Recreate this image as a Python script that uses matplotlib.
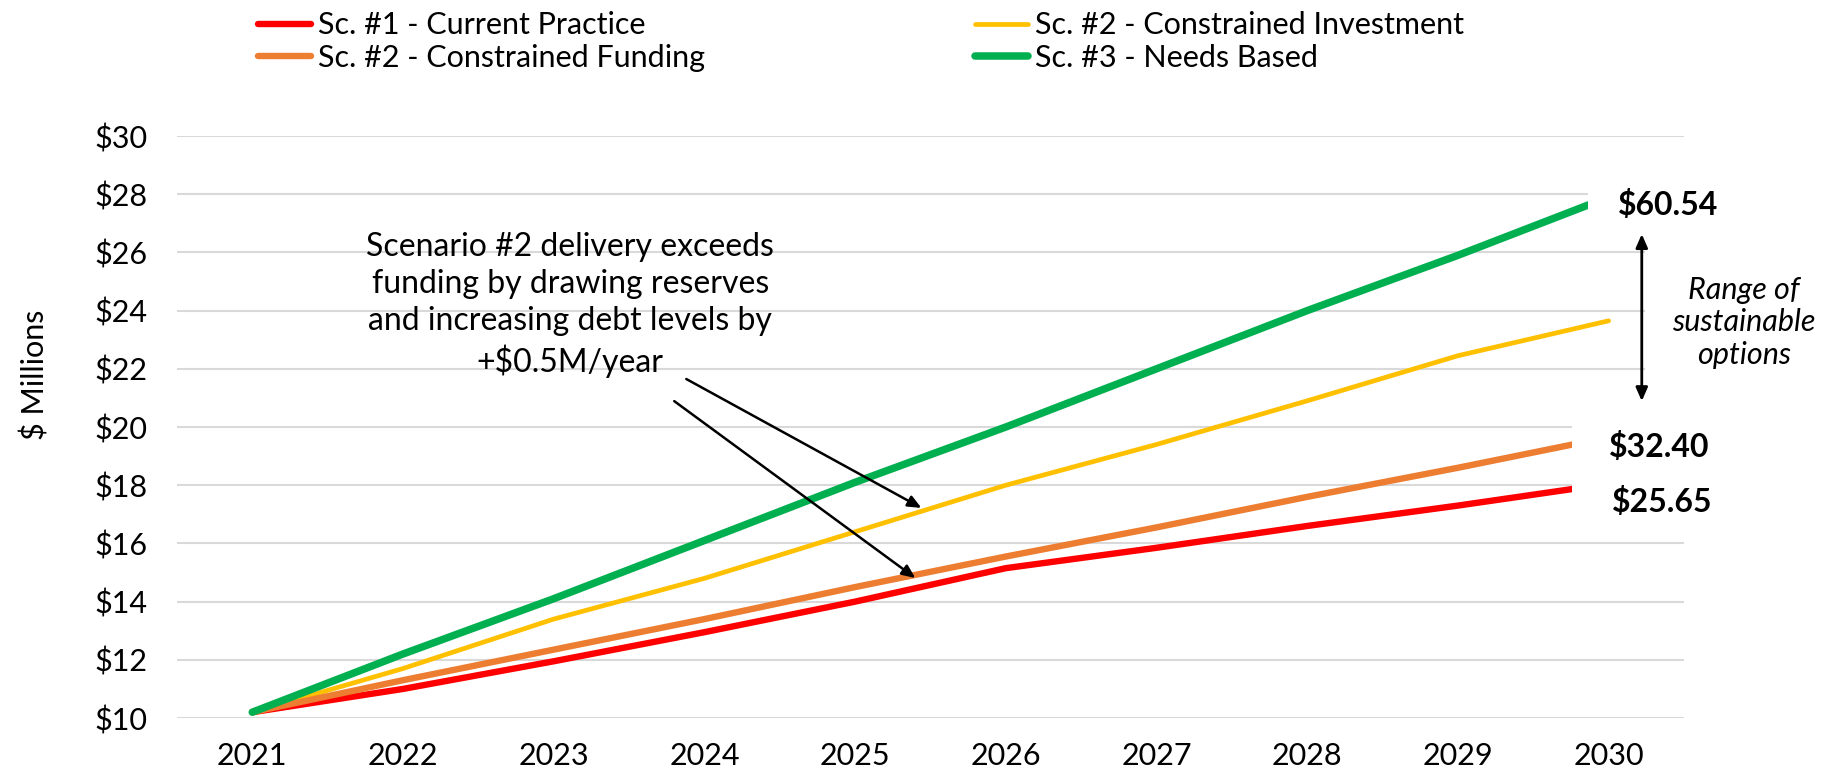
import matplotlib
matplotlib.use("Agg")
import matplotlib.pyplot as plt
from matplotlib.patches import Rectangle

plt.rcParams['font.family'] = ['Lato', 'DejaVu Sans']

years = [2021, 2022, 2023, 2024, 2025, 2026, 2027, 2028, 2029, 2030]
current_practice = [10.2, 11.0, 11.95, 12.95, 14.0, 15.15, 15.85, 16.6, 17.3, 18.05]
constrained_funding = [10.2, 11.3, 12.35, 13.4, 14.5, 15.55, 16.55, 17.6, 18.6, 19.65]
constrained_investment = [10.2, 11.7, 13.4, 14.8, 16.4, 18.0, 19.4, 20.9, 22.45, 23.65]
needs_based = [10.2, 12.2, 14.1, 16.1, 18.1, 20.0, 22.0, 24.0, 25.9, 27.9]

series_labels = ["Sc. #1 - Current Practice", "Sc. #2 - Constrained Funding",
                 "Sc. #2 - Constrained Investment", "Sc. #3 - Needs Based"]
end_labels = ["$60.54", "$32.40", "$25.65"]
y_ticks = [10, 12, 14, 16, 18, 20, 22, 24, 26, 28, 30]
note_text = ("Scenario #2 delivery exceeds\nfunding by drawing reserves\n"
             "and increasing debt levels by\n+$0.5M/year")
range_text = "Range of\nsustainable\noptions"

c_red, c_orange, c_yellow, c_green = "#FF0000", "#ED7D31", "#FFC000", "#00B050"

fig = plt.figure(figsize=(18.39, 7.75), dpi=100)
ax = fig.add_axes([0.0962, 0.0735, 0.8195, 0.751])

l_red, = ax.plot(years, current_practice, color=c_red, lw=4.6, solid_capstyle='round', zorder=3)
l_yel, = ax.plot(years, constrained_investment, color=c_yellow, lw=3.4, solid_capstyle='round', zorder=3.1)
l_org, = ax.plot(years, constrained_funding, color=c_orange, lw=4.6, solid_capstyle='round', zorder=3.2)
l_grn, = ax.plot(years, needs_based, color=c_green, lw=5.4, solid_capstyle='round', zorder=3.3)

ax.set_xlim(2020.5, 2030.5)
ax.set_ylim(10, 30)
ax.set_xticks(years)
ax.set_xticklabels([str(y) for y in years])
ax.set_yticks(y_ticks)
ax.set_yticklabels([f"${v}" for v in y_ticks])
ax.tick_params(axis='both', length=0, labelsize=22, colors='black')
ax.tick_params(axis='x', pad=17)
ax.tick_params(axis='y', pad=21)
ax.grid(axis='y', color='#D9D9D9', lw=1.5, zorder=0)
ax.set_axisbelow(True)
for s in ax.spines.values():
    s.set_visible(False)
ax.set_ylabel("$ Millions", fontsize=22)
ax.yaxis.set_label_coords(-0.0843, 0.589)

leg = fig.legend([l_red, l_org, l_yel, l_grn], series_labels, loc='upper left',
                 bbox_to_anchor=(0.132, 1.005), ncol=2, frameon=False, fontsize=22,
                 handlelength=1.75, handletextpad=0.2, columnspacing=8.85,
                 labelspacing=0.15, borderpad=0.0)
for h in leg.legend_handles:
    h.set_solid_capstyle('round')

# white label backgrounds hiding line ends and gridlines (as in the source chart)
for (x0, y0, y1) in [(2029.86, 26.9, 28.5), (2029.76, 16.9, 20.35), (2030.24, 21.2, 26.5)]:
    ax.add_patch(Rectangle((x0, y0), 2030.5 - x0, y1 - y0, facecolor='white', edgecolor='none',
                           zorder=4, clip_on=False))

ax.text(2030.06, 27.63, end_labels[0], fontsize=23, fontweight='bold', va='center', ha='left', zorder=5)
ax.text(2030.0, 19.32, end_labels[1], fontsize=23, fontweight='bold', va='center', ha='left', zorder=5)
ax.text(2030.02, 17.43, end_labels[2], fontsize=23, fontweight='bold', va='center', ha='left', zorder=5)

ax.text(2030.90, 23.6, range_text, fontsize=22, style='italic', ha='center', va='center',
        linespacing=1.2, zorder=5, clip_on=False)

ax.annotate("", xy=(2030.22, 26.63), xytext=(2030.22, 20.89), annotation_clip=False,
            arrowprops=dict(arrowstyle='<|-|>,head_length=0.8,head_width=0.35', color='black', lw=2,
                            shrinkA=0, shrinkB=0), zorder=6)

ax.text(2023.11, 24.19, note_text, fontsize=23, ha='center', va='center', linespacing=1.3, zorder=5)
ax.annotate("", xy=(2025.44, 17.22), xytext=(2023.88, 21.65),
            arrowprops=dict(arrowstyle='-|>,head_length=0.8,head_width=0.35', color='black', lw=1.8,
                            shrinkA=0, shrinkB=0), zorder=6)
ax.annotate("", xy=(2025.40, 14.81), xytext=(2023.80, 20.89),
            arrowprops=dict(arrowstyle='-|>,head_length=0.8,head_width=0.35', color='black', lw=1.8,
                            shrinkA=0, shrinkB=0), zorder=6)

fig.savefig("out.png", dpi=100)
